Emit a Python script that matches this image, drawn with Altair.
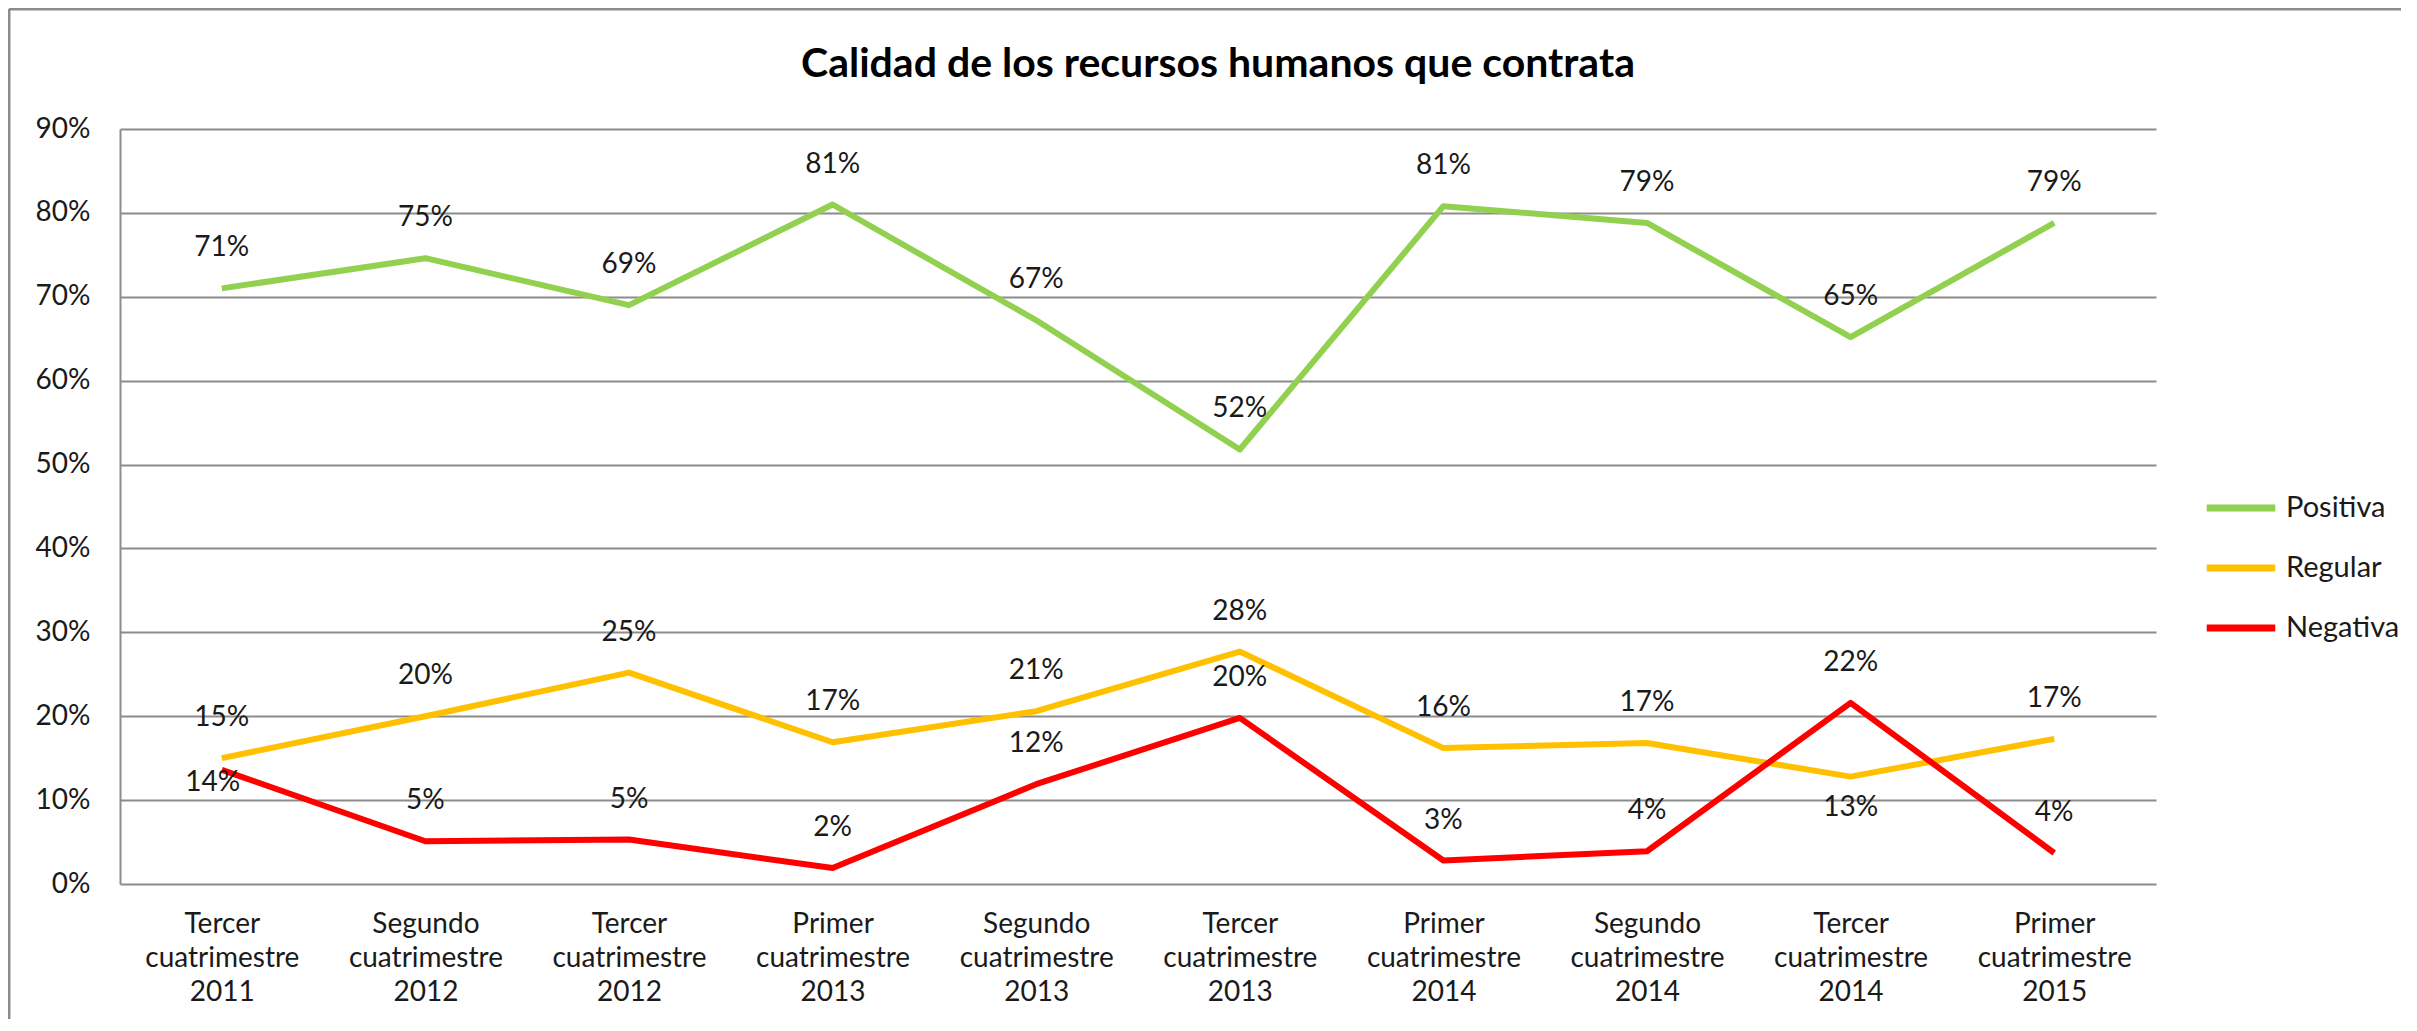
import altair as alt
import pandas as pd

categories = [
    "Tercer cuatrimestre 2011",
    "Segundo cuatrimestre 2012",
    "Tercer cuatrimestre 2012",
    "Primer cuatrimestre 2013",
    "Segundo cuatrimestre 2013",
    "Tercer cuatrimestre 2013",
    "Primer cuatrimestre 2014",
    "Segundo cuatrimestre 2014",
    "Tercer cuatrimestre 2014",
    "Primer cuatrimestre 2015",
]
series = ["Positiva", "Regular", "Negativa"]
colors = ["#92D050", "#FFC000", "#FF0000"]

positiva = [0.710, 0.746, 0.690, 0.810, 0.672, 0.518, 0.808, 0.788, 0.652, 0.788]
regular = [0.150, 0.200, 0.252, 0.169, 0.206, 0.277, 0.162, 0.168, 0.128, 0.173]
negativa = [0.136, 0.051, 0.053, 0.019, 0.119, 0.198, 0.028, 0.039, 0.216, 0.037]

y_ticks = [0.0, 0.1, 0.2, 0.3, 0.4, 0.5, 0.6, 0.7, 0.8, 0.9]

title_text = "Calidad de los recursos humanos que contrata"

# label placement exceptions (default: above the point)
label_place = {
    ("Regular", "Tercer cuatrimestre 2014"): "below",
    ("Negativa", "Tercer cuatrimestre 2011"): "near",
}

rows = []
for s, vals in zip(series, [positiva, regular, negativa]):
    for i, (c, v) in enumerate(zip(categories, vals)):
        rows.append({"serie": s, "cat": c, "idx": i, "value": v,
                     "pos": label_place.get((s, c), "above")})
df = pd.DataFrame(rows)

FONT = "Lato"
TXT = "#1a1a1a"
GRID = "#8c8c8c"

x_enc = alt.X("cat:N", sort=categories,
              scale=alt.Scale(type="point", padding=0.5),
              axis=alt.Axis(title=None, labelExpr="split(datum.label, ' ')",
                            labelAngle=0, labelFont=FONT, labelFontSize=28,
                            labelColor=TXT, labelLineHeight=34, labelPadding=26,
                            labelBaseline="top", labelLimit=400,
                            ticks=False, domain=False, grid=False))
y_enc = alt.Y("value:Q",
              scale=alt.Scale(domain=[0, 0.9], nice=False, zero=True),
              axis=alt.Axis(title=None, values=y_ticks, format=".0%",
                            labelFont=FONT, labelFontSize=28, labelColor=TXT,
                            labelPadding=30, ticks=False,
                            domain=True, domainColor=GRID, domainWidth=2,
                            grid=True, gridColor=GRID, gridWidth=2))
color_enc = alt.Color("serie:N",
                      scale=alt.Scale(domain=series, range=colors),
                      legend=alt.Legend(orient="none", legendX=2083, legendY=341,
                                        title=None, symbolType="stroke",
                                        symbolStrokeWidth=7, symbolSize=4700,
                                        labelFont=FONT, labelFontSize=29,
                                        labelColor=TXT, labelOffset=7,
                                        rowPadding=7))

base = alt.Chart(df)

lines = base.mark_line(strokeWidth=6, strokeJoin="round").encode(
    x=x_enc, y=y_enc, color=color_enc, order=alt.Order("idx:Q"))

def labels(pos, dy, dx=0):
    return base.transform_filter(alt.datum.pos == pos).mark_text(
        font=FONT, fontSize=28, color=TXT, dy=dy, dx=dx, baseline="middle"
    ).encode(x=alt.X("cat:N", sort=categories), y="value:Q",
             text=alt.Text("value:Q", format=".0%"))

one = alt.Data(values=[{"t": title_text}])

title_mark = alt.Chart(one).mark_text(
    font=FONT, fontSize=41, fontWeight="bold", color="#000000",
    align="center", baseline="alphabetic").encode(
    x=alt.value(1098), y=alt.value(-52), text="t:N")

frame_v = alt.Chart(one).mark_rule(color=GRID, strokeWidth=3).encode(
    x=alt.value(-111), y=alt.value(-120), y2=alt.value(1000))
frame_h = alt.Chart(one).mark_rule(color=GRID, strokeWidth=3).encode(
    x=alt.value(-111), x2=alt.value(2400), y=alt.value(-120))

chart = alt.layer(
    lines,
    labels("above", -40),
    labels("below", 31),
    labels("near", 13, -9),
    title_mark,
    frame_v,
    frame_h,
).properties(
    width=2036,
    height=755,
    autosize=alt.AutoSizeParams(type="none"),
    padding={"left": 112, "top": 121, "right": 245, "bottom": 135},
    background="white",
).configure_view(strokeWidth=0)

chart.save("out.html", embed_options={"renderer": "svg", "actions": False})
